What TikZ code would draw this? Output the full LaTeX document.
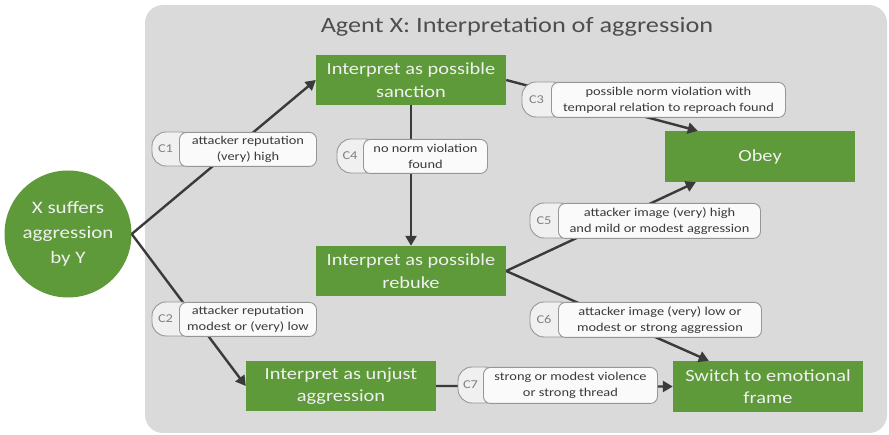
\documentclass[tikz,border=0pt]{standalone}
\usepackage{fontspec}
\setmainfont{Carlito}[FakeStretch=1.2]
\usetikzlibrary{arrows.meta,calc}

\definecolor{leaf}{RGB}{94,153,58}
\definecolor{panel}{RGB}{218,218,218}
\definecolor{ink}{RGB}{58,58,58}
\definecolor{tagline}{RGB}{150,150,150}
\definecolor{tagfill}{RGB}{240,240,240}

\tikzset{
  stepbox/.style={fill=leaf, draw=none, text=white!94!black, align=center,
    font=\fontsize{17}{22.5}\selectfont, inner sep=0pt},
  flow/.style={draw=ink, line width=2.4pt, -{Triangle[length=10pt,width=11pt]}},
  condbox/.style={draw=tagline, line width=0.9pt, fill=white!98!black,
    rounded corners=7pt, align=center, text=ink, inner sep=0pt,
    font=\fontsize{12}{16}\selectfont},
  tagpill/.style={draw=tagline, line width=0.9pt, fill=tagfill},
  tagtext/.style={text=gray, font=\fontsize{12}{14}\selectfont, inner sep=0pt},
}

% condition label: name, tag, left x, box left x, right x, top y, bottom y, text
\newcommand\condlabel[8]{%
  \draw[tagpill, rounded corners=14pt] (#3,#6) rectangle (#4+16,#7);
  \node[condbox, anchor=north west, minimum width={#5-#4}, minimum height={#7-#6}]
    (#1) at (#4,#6) {#8};
  \node[tagtext] (#1tag) at ({(#3+#4)/2},{(#6+#7)/2}) {#2};
}

\begin{document}
\begin{tikzpicture}[x=1pt,y=-1pt]
\useasboundingbox (0,0) rectangle (889,435);

% panel and title
\fill[panel, rounded corners=18pt] (145,5) rectangle (887,433);
\node[text=ink!90!white, font=\fontsize{21.9}{24}\selectfont] (title) at (517,27)
  {Agent X: Interpretation of aggression};

% nodes
\node[circle, fill=leaf, minimum size=127pt, inner sep=0pt, align=center,
  text=white!94!black, font=\fontsize{17.5}{25}\selectfont] (start) at (68,234)
  {X suffers\\aggression\\by Y};
\node[stepbox, minimum width=190pt, minimum height=50pt] (sanction) at (411,80)
  {Interpret as possible\\sanction};
\node[stepbox, minimum width=190pt, minimum height=50pt] (rebuke) at (411,271)
  {Interpret as possible\\rebuke};
\node[stepbox, minimum width=190pt, minimum height=51pt] (obey) at (760,156.5)
  {Obey};
\node[stepbox, minimum width=190pt, minimum height=50pt] (unjust) at (341,386)
  {Interpret as unjust\\aggression};
\node[stepbox, minimum width=190pt, minimum height=51pt] (switch) at (768,386.5)
  {Switch to emotional\\frame};

% connectors
\draw[flow] (start.east) -- (sanction.west);
\draw[flow] (start.east) -- (unjust.west);
\draw[flow] (sanction.south) -- (rebuke.north);
\draw[flow] (sanction.east) -- ([xshift=33pt]obey.north west);
\draw[flow] (rebuke.east) -- ([xshift=31pt]obey.south west);
\draw[flow] (rebuke.east) -- ([xshift=36pt]switch.north west);
\draw[flow] (unjust.east) -- (switch.west);

% condition labels
\condlabel{c1}{C1}{152}{179}{316}{132}{166}{attacker reputation\\(very) high}
\condlabel{c2}{C2}{152}{179}{316}{302}{336}{attacker reputation\\modest or (very) low}
\condlabel{c3}{C3}{522}{551}{785}{82}{117}{possible norm violation with\\temporal relation to reproach found}
\condlabel{c4}{C4}{337}{363}{487}{139}{173}{no norm violation\\found}
\condlabel{c5}{C5}{530}{558}{760}{203}{238}{attacker image (very) high\\and mild or modest aggression}
\condlabel{c6}{C6}{530}{558}{761}{302}{337}{attacker image (very) low or\\modest or strong aggression}
\condlabel{c7}{C7}{458}{483}{657}{367}{403}{strong or modest violence\\or strong thread}
\end{tikzpicture}
\end{document}
